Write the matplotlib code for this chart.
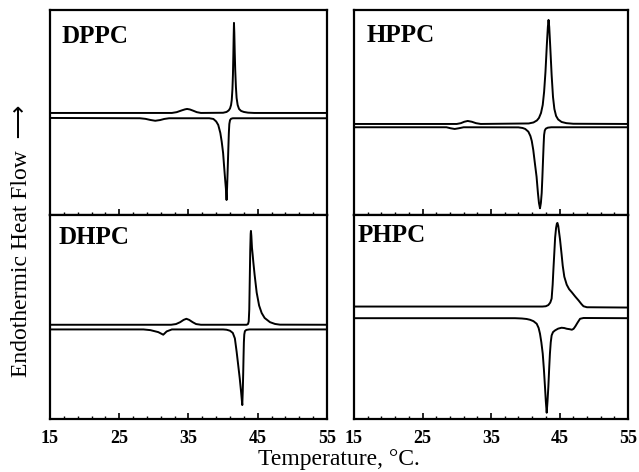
import matplotlib.pyplot as plt

# DSC thermograms (temperature in C, signal in arbitrary units, 0-205 per panel)
# DPPC
dppc_heat_t = [15, 32.6, 33.3, 34.0, 34.5, 34.8, 35.2, 35.7, 36.2, 36.8,
               40.0, 40.5, 40.8, 41.0, 41.15, 41.25, 41.35, 41.42, 41.48, 41.53, 41.57,
               41.62, 41.68, 41.75, 41.85, 41.95, 42.1, 42.3, 42.6, 43.0, 43.6, 44.5, 55]
dppc_heat_y = [102, 102, 102.8, 104.5, 105.6, 106, 105.5, 104.2, 102.8, 102,
               102.2, 103, 104.5, 106.5, 110, 115, 126, 140, 160, 180, 192,
               182, 163, 145, 128, 117, 110, 106, 104, 103, 102.3, 102, 102]
dppc_cool_t = [15, 28.0, 28.8, 29.5, 30.2, 30.9, 31.5, 32.2,
               38.0, 38.6, 39.0, 39.3, 39.6, 39.8, 40.0, 40.13, 40.3, 40.4, 40.5,
               40.58, 40.66, 40.75, 40.83, 40.9, 41.0, 41.15, 41.4, 55]
dppc_cool_y = [97, 96.7, 96.1, 95, 94.2, 94.9, 96, 96.7,
               96.7, 96, 93.5, 90, 82, 73.3, 62, 50, 35, 26.7, 15,
               28, 45, 65, 82, 91, 94.8, 96.2, 96.7, 96.7]

# HPPC
hppc_heat_t = [15, 30.0, 30.6, 31.1, 31.6, 32.2, 32.8, 33.5,
               40.5, 41.2, 41.7, 42.0, 42.3, 42.55, 42.75, 42.95, 43.15, 43.3, 43.4,
               43.5, 43.65, 43.85, 44.05, 44.25, 44.5, 44.8, 45.3, 46.0, 47.0, 55]
hppc_heat_y = [91, 91, 91.8, 93.2, 94, 93.2, 91.8, 91,
               91.5, 92.5, 94.5, 97, 102, 110, 123, 143, 170, 188, 195,
               188, 168, 140, 118, 106, 99, 95.5, 93, 91.8, 91.2, 91]
hppc_cool_t = [15, 28.5, 29.1, 29.7, 30.3, 31.0,
               39.0, 39.6, 40.0, 40.45, 40.75, 40.95, 41.17, 41.4, 41.65, 41.85, 42.0, 42.15,
               42.28, 42.4, 42.5, 42.6, 42.68, 42.75, 42.85, 43.0, 43.3, 43.8, 55]
hppc_cool_y = [87.7, 87.7, 86.7, 86, 86.7, 87.7,
               87.6, 87, 86, 83.3, 79, 74, 65, 52, 38.3, 22, 12, 6.7,
               12, 22, 38, 56, 70, 80, 84.5, 86.3, 87.3, 87.7, 87.7]

# DHPC
dhpc_heat_t = [15, 32.5, 33.2, 33.8, 34.3, 34.7, 35.1, 35.6, 36.1, 36.8,
               43.4, 43.6, 43.7, 43.78, 43.85, 43.92, 43.98, 44.02,
               44.08, 44.17, 44.27, 44.36, 44.55, 44.85, 45.2, 45.57, 46.0, 46.77, 47.5, 48.2, 55]
dhpc_heat_y = [94.7, 94.7, 95.4, 97.3, 99.6, 100.7, 99.6, 97.3, 95.4, 94.7,
               94.7, 95.5, 98, 110, 140, 170, 186, 189,
               184, 172, 165, 158, 145, 127, 114, 106.5, 101.5, 97.3, 95.5, 94.8, 94.7]
dhpc_cool_t = [15, 28.5, 29.5, 30.64, 31.36, 31.85, 32.6,
               40.0, 40.5, 41.0, 41.4, 41.7, 41.96, 42.2, 42.4, 42.6, 42.77,
               42.84, 42.9, 42.95, 43.0, 43.06, 43.15, 43.35, 43.8, 55]
dhpc_cool_y = [90, 90, 89.3, 87.3, 84.7, 88, 90,
               90, 89.7, 88.7, 86.5, 81, 67.3, 53, 41, 27, 14,
               28, 45, 62, 77, 85, 88.3, 89.5, 90, 90]

# PHPC
phpc_heat_t = [15, 42.5, 43.0, 43.37, 43.65, 43.85, 44.0, 44.1, 44.25, 44.36, 44.5, 44.62, 44.7,
               44.82, 44.95, 45.07, 45.3, 45.47, 45.7, 46.05, 46.4, 46.8, 47.3, 47.8, 48.2,
               48.5, 49.0, 55]
phpc_heat_y = [113, 113, 113.3, 114.5, 117, 121, 135, 149, 168, 182.3, 192, 196.5, 197,
               194, 187, 180.7, 165.7, 154, 143, 135, 130.5, 127.3, 123, 119, 115.5,
               113.3, 112.3, 112]
phpc_cool_t = [15, 38.5, 39.5, 40.2, 40.7, 41.2, 41.67, 41.95, 42.15, 42.35, 42.55, 42.72,
               42.88, 43.0, 43.13, 43.25, 43.37, 43.5, 43.6, 43.72, 43.85, 44.05, 44.34,
               44.8, 45.3, 45.7, 46.05, 46.5, 46.8, 47.05, 47.3, 47.65, 48.0, 48.5, 55]
phpc_cool_y = [101.3, 101.3, 101, 100.5, 99.7, 98.3, 95.7, 91.5, 85.7, 77, 65.7, 50,
               32.3, 18, 6.3, 18, 32.3, 52, 65.7, 77, 84, 87.3, 89,
               90.8, 91.7, 91.4, 90.7, 90.2, 89.7, 90.6, 93, 97, 100.7, 101.5, 101.3]

panel_names = ['DPPC', 'HPPC', 'DHPC', 'PHPC']
xticks_major = [15, 25, 35, 45, 55]
xticks_minor = list(range(17, 55, 2))

plt.rcParams['font.family'] = ['Liberation Serif', 'DejaVu Serif']

fig = plt.figure(figsize=(6.39, 4.72), dpi=100)

# panel rectangles in figure fractions
boxes = [
    [0.0782, 0.5445, 0.4335, 0.4345],
    [0.554, 0.5445, 0.4288, 0.4345],
    [0.0782, 0.1123, 0.4335, 0.4322],
    [0.554, 0.1123, 0.4288, 0.4322],
]
# where each panel name sits (axes fraction, baseline)
name_pos = [(0.043, 0.839), (0.047, 0.844), (0.029, 0.858), (0.013, 0.866)]
curves = [
    (dppc_heat_t, dppc_heat_y, dppc_cool_t, dppc_cool_y),
    (hppc_heat_t, hppc_heat_y, hppc_cool_t, hppc_cool_y),
    (dhpc_heat_t, dhpc_heat_y, dhpc_cool_t, dhpc_cool_y),
    (phpc_heat_t, phpc_heat_y, phpc_cool_t, phpc_cool_y),
]

for i, (box, name, c) in enumerate(zip(boxes, panel_names, curves)):
    ax = fig.add_axes(box)
    ax.plot(c[0], c[1], color='black', lw=1.4, solid_joinstyle='round')
    ax.plot(c[2], c[3], color='black', lw=1.4, solid_joinstyle='round')
    ax.set_xlim(15, 55)
    ax.set_ylim(0, 205)
    ax.set_yticks([])
    ax.set_xticks(xticks_major)
    ax.set_xticks(xticks_minor, minor=True)
    ax.tick_params(axis='x', which='major', direction='in', length=4, width=1.2)
    ax.tick_params(axis='x', which='minor', direction='in', length=2.5, width=1.0)
    if i < 2:
        ax.set_xticklabels([])
    else:
        ax.set_xticklabels([str(v) for v in xticks_major], fontsize=13, fontweight='bold')
        ax.tick_params(axis='x', pad=8)
    for s in ax.spines.values():
        s.set_linewidth(1.6)
    ax.text(name_pos[i][0], name_pos[i][1], name, transform=ax.transAxes, fontsize=18,
            fontweight='bold', va='baseline', ha='left')

fig.text(0.53, 0.005, 'Temperature, °C.', fontsize=17, ha='center', va='bottom')
fig.text(0.034, 0.49, 'Endothermic Heat Flow  \u27f6', fontsize=17, rotation=90,
         ha='center', va='center', family=['Liberation Serif', 'DejaVu Sans'])

plt.savefig('out.png', dpi=100)
